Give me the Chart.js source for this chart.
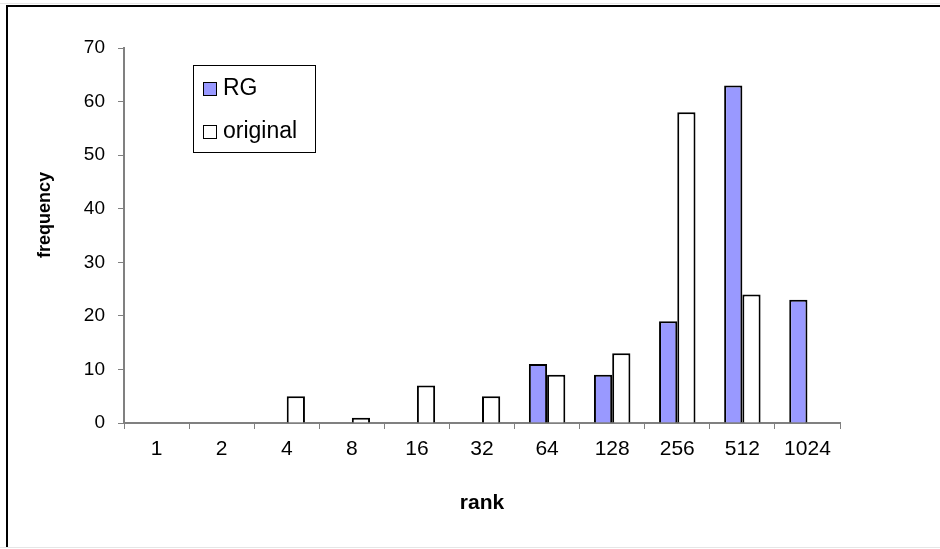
<!DOCTYPE html>
<html>
<head>
<meta charset="utf-8">
<script src="https://cdn.jsdelivr.net/npm/chart.js@4"></script>
<style>
html,body{margin:0;padding:0;background:#fff;}
#wrap{width:940px;height:549px;position:relative;}
</style>
</head>
<body>
<div id="wrap"><canvas id="c" width="940" height="549"></canvas></div>
<script>
const categories = ['1','2','4','8','16','32','64','128','256','512','1024'];
const rgValues = [0,0,0,0,0,0,11,9,19,63,23];
const originalValues = [0,0,5,1,7,5,9,13,58,24,0];
const yTicks = [0,10,20,30,40,50,60,70];
const seriesNames = ['RG','original'];
const xTitle = 'rank';
const yTitle = 'frequency';

const FONT = 'Liberation Sans, Arial, sans-serif';

const framePlugin = {
  id: 'frame',
  afterDraw(chart) {
    const ctx = chart.ctx;
    ctx.save();
    ctx.fillStyle = '#e6e6e6';
    ctx.fillRect(0, 3, 940, 1);
    ctx.fillRect(0, 547, 940, 1);
    ctx.fillStyle = '#000';
    ctx.fillRect(6, 5, 934, 2);
    ctx.fillRect(6, 5, 2, 542);
    ctx.translate(45, 215);
    ctx.rotate(-Math.PI/2);
    ctx.font = 'bold 18px ' + FONT;
    ctx.textAlign = 'center';
    ctx.textBaseline = 'middle';
    ctx.fillText(yTitle, 0, 0);
    ctx.restore();

    ctx.save();
    ctx.strokeStyle = '#000';
    ctx.lineWidth = 1;
    ctx.strokeRect(193.5, 65.5, 122, 87);
    const items = chart.data.datasets;
    const ys = [82, 125];
    items.forEach((ds, i) => {
      ctx.fillStyle = ds.backgroundColor;
      ctx.fillRect(203, ys[i], 14, 14);
      ctx.strokeRect(203.5, ys[i] + 0.5, 13, 13);
      ctx.fillStyle = '#000';
      ctx.font = '23px ' + FONT;
      ctx.textAlign = 'left';
      ctx.textBaseline = 'middle';
      ctx.fillText(ds.label, 223, ys[i] + 7);
    });
    ctx.restore();
  }
};

new Chart(document.getElementById('c'), {
  type: 'bar',
  data: {
    labels: categories,
    datasets: [
      { label: seriesNames[0], data: rgValues, backgroundColor: '#9999ff', borderColor: '#000', borderWidth: 2 },
      { label: seriesNames[1], data: originalValues, backgroundColor: '#ffffff', borderColor: '#000', borderWidth: 2 }
    ]
  },
  options: {
    responsive: false,
    animation: false,
    devicePixelRatio: 1,
    categoryPercentage: 0.56,
    barPercentage: 1,
    layout: { padding: { top: 48, right: 100, bottom: 0, left: 0 } },
    plugins: { legend: { display: false }, tooltip: { enabled: false } },
    scales: {
      x: {
        grid: { display: true, drawOnChartArea: false, tickLength: 6, color: '#808080', offset: true, tickColor: '#808080' },
        border: { color: '#808080', width: 2 },
        ticks: { color: '#000', font: { family: FONT, size: 21 }, padding: 8, maxRotation: 0, autoSkip: false },
        title: { display: true, text: xTitle, color: '#000', font: { family: FONT, size: 21, weight: 'bold' }, padding: { top: 0, bottom: 33 } },
        afterFit(scale) { scale.height = 126; }
      },
      y: {
        min: 0, max: 70,
        afterBuildTicks(scale) { scale.ticks = yTicks.map(v => ({ value: v })); },
        grid: { display: true, drawOnChartArea: false, tickLength: 6, color: '#808080', tickColor: '#808080' },
        border: { color: '#808080', width: 2 },
        ticks: { color: '#000', font: { family: FONT, size: 19 }, padding: 13 },
        afterFit(scale) { scale.width = 124; }
      }
    }
  },
  plugins: [framePlugin]
});
</script>
</body>
</html>
